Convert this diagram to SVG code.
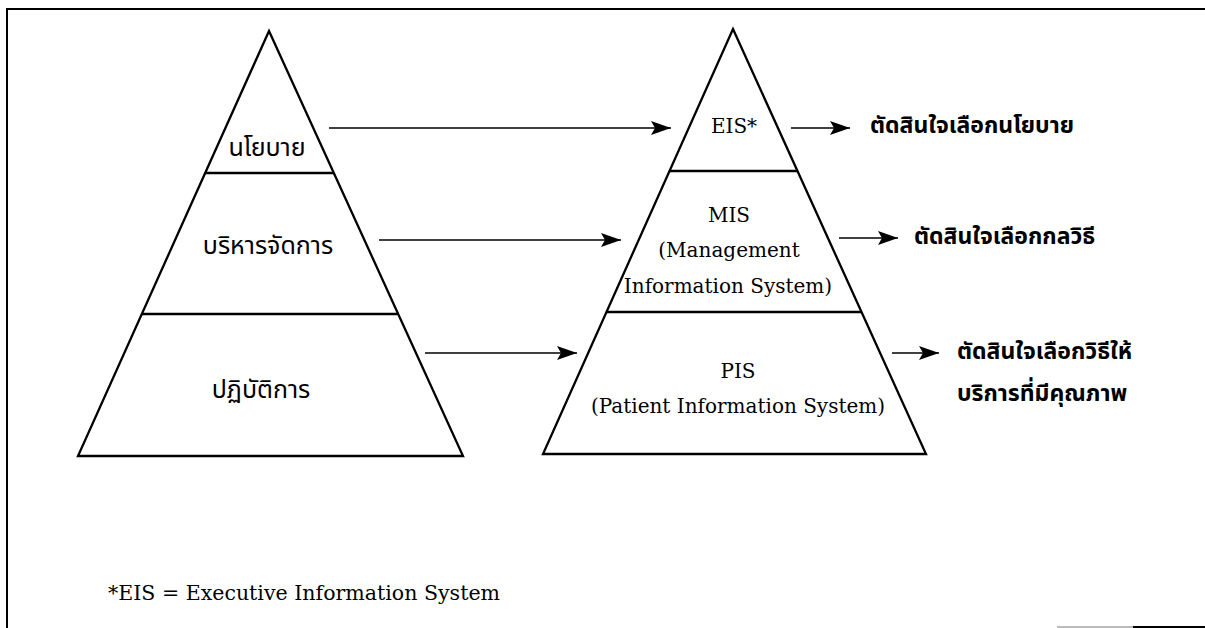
<svg xmlns="http://www.w3.org/2000/svg" width="1205" height="628" viewBox="0 0 1205 628">
  <style>
    .edge { fill: none; stroke: #000; stroke-width: 2.3; stroke-linejoin: miter; }
    .div { stroke: #000; stroke-width: 2.4; }
    .conn { stroke: #000; stroke-width: 1.6; fill: none; }
    .th { font-family: "Noto Sans Thai", "Noto Sans", "DejaVu Sans", sans-serif; font-size: 25px; fill: #000; }
    .thb { font-family: "Noto Sans Thai", "Noto Sans", "DejaVu Sans", sans-serif; font-size: 23px; font-weight: bold; fill: #000; }
    .en { font-family: "DejaVu Serif", "Liberation Serif", serif; font-size: 20px; fill: #000; }
  </style>
  <defs>
    <marker id="head" viewBox="0 0 20 14" refX="20" refY="7" markerWidth="20" markerHeight="14" markerUnits="userSpaceOnUse" orient="auto">
      <path d="M0,0 L20,7 L0,14 L4,7 Z" fill="#000"/>
    </marker>
  </defs>
  <rect width="1205" height="628" fill="#fff"/>

  <!-- frame -->
  <g id="frame">
    <line x1="6" y1="9" x2="1205" y2="9" stroke="#000" stroke-width="2"/>
    <line x1="7" y1="9" x2="7" y2="628" stroke="#000" stroke-width="2"/>
    <line x1="1057" y1="627" x2="1133" y2="627" stroke="#bbb" stroke-width="2"/>
    <line x1="1133" y1="627" x2="1205" y2="627" stroke="#000" stroke-width="2"/>
  </g>

  <!-- left pyramid: organisation levels -->
  <g id="left-pyramid">
    <polygon class="edge" points="269,31 463,456 78,456"/>
    <line class="div" x1="205" y1="173" x2="334" y2="173"/>
    <line class="div" x1="142" y1="314" x2="399" y2="314"/>
  </g>
  <g id="node-policy">
    <text class="th" x="267" y="156" text-anchor="middle">นโยบาย</text>
  </g>
  <g id="node-management">
    <text class="th" x="268" y="254" text-anchor="middle">บริหารจัดการ</text>
  </g>
  <g id="node-operation">
    <text class="th" x="261" y="398" text-anchor="middle">ปฏิบัติการ</text>
  </g>

  <!-- right pyramid: information systems -->
  <g id="right-pyramid">
    <polygon class="edge" points="733,29 926,454 543,454"/>
    <line class="div" x1="670" y1="171" x2="797" y2="171"/>
    <line class="div" x1="607" y1="312" x2="861" y2="312"/>
  </g>
  <g id="node-eis">
    <text class="en" x="734" y="133" text-anchor="middle">EIS*</text>
  </g>
  <g id="node-mis">
    <text class="en" x="729" y="222" text-anchor="middle">MIS</text>
    <text class="en" x="729" y="257" text-anchor="middle">(Management</text>
    <text class="en" x="728" y="293" text-anchor="middle">Information System)</text>
  </g>
  <g id="node-pis">
    <text class="en" x="738" y="378" text-anchor="middle">PIS</text>
    <text class="en" x="738" y="413" text-anchor="middle">(Patient Information System)</text>
  </g>

  <!-- decision outcomes -->
  <g id="node-decide-policy">
    <text class="thb" x="870" y="133">ตัดสินใจเลือกนโยบาย</text>
  </g>
  <g id="node-decide-strategy">
    <text class="thb" x="914" y="244">ตัดสินใจเลือกกลวิธี</text>
  </g>
  <g id="node-decide-method">
    <text class="thb" x="957" y="359">ตัดสินใจเลือกวิธีให้</text>
    <text class="thb" x="957" y="401">บริการที่มีคุณภาพ</text>
  </g>

  <!-- connectors -->
  <g id="connectors">
    <line class="conn" x1="329" y1="128" x2="671" y2="128" marker-end="url(#head)"/>
    <line class="conn" x1="379" y1="240" x2="621" y2="240" marker-end="url(#head)"/>
    <line class="conn" x1="425" y1="353" x2="577" y2="353" marker-end="url(#head)"/>
    <line class="conn" x1="791" y1="128" x2="850" y2="128" marker-end="url(#head)"/>
    <line class="conn" x1="839" y1="238" x2="898" y2="238" marker-end="url(#head)"/>
    <line class="conn" x1="892" y1="353" x2="939" y2="353" marker-end="url(#head)"/>
  </g>

  <!-- footnote -->
  <g id="footnote">
    <text class="en" x="108" y="600" textLength="392" lengthAdjust="spacingAndGlyphs">*EIS = Executive Information System</text>
  </g>
</svg>
